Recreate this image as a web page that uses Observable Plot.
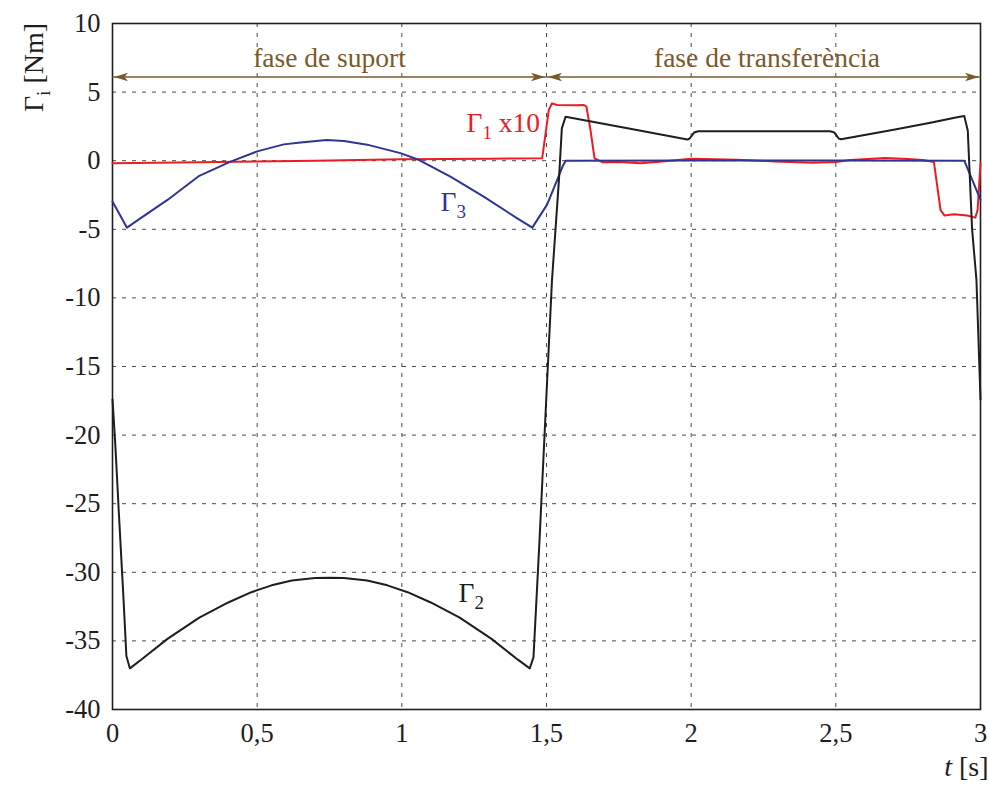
<!DOCTYPE html>
<html>
<head>
<meta charset="utf-8">
<script src="https://cdn.jsdelivr.net/npm/d3@7"></script>
<script src="https://cdn.jsdelivr.net/npm/@observablehq/plot@0.6"></script>
<style>
  body { margin: 0; background: #fff; }
</style>
</head>
<body>
<script>
// Joint torques over one gait cycle (support phase, then transfer phase).
// Γ2 — black
const tGamma2 = [0, 0.010, 0.022, 0.037, 0.048, 0.060, 0.10, 0.19, 0.30, 0.40, 0.48, 0.55, 0.62, 0.70, 0.75,
  0.80, 0.88, 0.95, 1.02, 1.10, 1.20, 1.31, 1.40, 1.442, 1.455, 1.476, 1.500, 1.519, 1.543, 1.553, 1.566,
  1.78, 1.987, 1.995, 2.010, 2.025, 2.480, 2.495, 2.510, 2.518, 2.70, 2.827, 2.856, 2.919, 2.944, 2.956,
  2.971, 2.986, 3.0];
const gamma2 = [-17.4, -20.8, -25.7, -31.5, -36.1, -37.0, -36.35, -34.85, -33.3, -32.2, -31.45, -30.95, -30.6, -30.42, -30.4,
  -30.42, -30.6, -30.95, -31.45, -32.2, -33.3, -34.85, -36.35, -37.0, -36.2, -27.6, -17.0, -8.7, -1.4, 2.36, 3.2,
  2.36, 1.54, 1.62, 2.05, 2.15, 2.15, 2.05, 1.62, 1.56, 2.25, 2.77, 2.9, 3.16, 3.25, 2.2,
  -5.0, -8.7, -17.4];

// Γ3 — blue
const tGamma3 = [0, 0.05, 0.10, 0.19, 0.30, 0.408, 0.50, 0.592, 0.65, 0.74, 0.80, 0.88, 0.995, 1.06,
  1.168, 1.283, 1.399, 1.451, 1.502, 1.537, 1.556, 1.566, 2.0, 2.5, 2.944, 3.0];
const gamma3 = [-2.98, -4.88, -4.15, -2.86, -1.1, -0.07, 0.68, 1.19, 1.33, 1.5, 1.43, 1.17, 0.55, 0.05,
  -1.16, -2.62, -4.2, -4.88, -3.2, -1.4, -0.4, 0.0, 0.02, 0.02, 0.0, -2.86];

// Γ1 ×10 — red
const tGamma1 = [0, 0.30, 0.70, 1.00, 1.30, 1.485, 1.508, 1.519, 1.537, 1.600, 1.629, 1.638, 1.652, 1.666, 1.695,
  1.75, 1.825, 1.90, 2.00, 2.08, 2.16, 2.29, 2.42, 2.50, 2.55, 2.67, 2.75, 2.80, 2.839, 2.862, 2.876, 2.908,
  2.954, 2.982, 2.990, 3.0];
const gamma1x10 = [-0.19, -0.12, 0.0, 0.1, 0.15, 0.17, 3.7, 4.18, 4.06, 4.05, 4.06, 3.94, 2.24, 0.17, -0.12,
  -0.1, -0.18, -0.05, 0.15, 0.1, 0.07, -0.05, -0.15, -0.1, 0.05, 0.2, 0.12, 0.05, -0.1, -3.6, -4.0, -3.9,
  -4.0, -4.15, -3.6, -0.2];

// Gait phases (seconds) and their names
const phaseStart = [0, 1.5];
const phaseEnd = [1.5, 3];
const phaseNames = ["fase de suport", "fase de transferència"];

// Axis ticks
const xTicks = [0, 0.5, 1, 1.5, 2, 2.5, 3];
const yTicks = [10, 5, 0, -5, -10, -15, -20, -25, -30, -35, -40];

const series = (ts, vs) => ts.map((t, i) => ({t, v: vs[i]}));
const black = series(tGamma2, gamma2);
const blue = series(tGamma3, gamma3);
const red = series(tGamma1, gamma1x10);
const phases = phaseStart.map((s, i) => ({s, e: phaseEnd[i], name: phaseNames[i], mid: i === 0 ? (s + phaseEnd[i]) / 2 : 2.262}));

const brown = "#7a5a2c";
const cRed = "#ec1c24";
const cBlue = "#2e3592";
const cBlack = "#1e1e1e";
const serif = "Liberation Serif";

// Filled, notched arrowheads with their tip at the origin
const headRight = {draw(ctx) { ctx.moveTo(0, 0); ctx.lineTo(-14, -4.2); ctx.lineTo(-10.5, 0); ctx.lineTo(-14, 4.2); ctx.closePath(); }};
const headLeft = {draw(ctx) { ctx.moveTo(0, 0); ctx.lineTo(14, -4.2); ctx.lineTo(10.5, 0); ctx.lineTo(14, 4.2); ctx.closePath(); }};

const arrowY = 6.1;

const chart = Plot.plot({
  width: 989,
  height: 791,
  marginLeft: 112,
  marginRight: 9,
  marginTop: 23,
  marginBottom: 82,
  style: {fontFamily: serif, fontSize: "26.5px", background: "#fff", color: "#1e1e1e"},
  x: {domain: [0, 3], ticks: xTicks, tickFormat: d => String(d).replace(".", ","), tickSize: 0, tickPadding: 14, label: null},
  y: {domain: [-40, 10], ticks: yTicks, tickFormat: d => String(d), tickSize: 0, tickPadding: 12, label: null},
  marks: [
    Plot.ruleX(xTicks, {stroke: "#4a4a4a", strokeDasharray: "4,6", strokeWidth: 1}),
    Plot.ruleY(yTicks, {stroke: "#4a4a4a", strokeDasharray: "4,6", strokeWidth: 1}),
    Plot.frame({stroke: cBlack, strokeWidth: 1.6}),
    // phase arrows
    Plot.link(phases, {x1: "s", x2: "e", y1: () => arrowY, y2: () => arrowY, stroke: brown, strokeWidth: 1.6}),
    Plot.dot(phases, {x: "s", y: () => arrowY, symbol: headLeft, fill: brown, stroke: null, dx: 1.5}),
    Plot.dot(phases, {x: "e", y: () => arrowY, symbol: headRight, fill: brown, stroke: null, dx: -1.5}),
    Plot.text(phases, {x: "mid", y: 7.45, text: "name", fill: brown, fontSize: 27.5}),
    // torque curves
    Plot.line(red, {x: "t", y: "v", stroke: cRed, strokeWidth: 2}),
    Plot.line(blue, {x: "t", y: "v", stroke: cBlue, strokeWidth: 2}),
    Plot.line(black, {x: "t", y: "v", stroke: cBlack, strokeWidth: 2}),
    // curve labels
    Plot.text(["Γ1 x10"], {x: 1.2235, y: 2.7, text: d => d, textAnchor: "start", fill: cRed, fontSize: 27.5}),
    Plot.text(["Γ3"], {x: 1.134, y: -3.0, text: d => d, textAnchor: "start", fill: cBlue, fontSize: 27.5}),
    Plot.text(["Γ2"], {x: 1.196, y: -31.5, text: d => d, textAnchor: "start", fill: cBlack, fontSize: 27.5}),
    // axis titles
    Plot.text(["Γi [Nm]"], {frameAnchor: "top-left", text: d => d, rotate: -90, textAnchor: "middle", dx: -89, dy: 44, fill: cBlack, fontSize: 28}),
    Plot.text(["t [s]"], {frameAnchor: "bottom-right", text: d => d, textAnchor: "end", dx: 8, dy: 66, fill: cBlack, fontSize: 28})
  ]
});

// Subscripts and italics in the labels
d3.select(chart).selectAll("text").each(function () {
  const s = this.textContent;
  const sel = d3.select(this);
  const m = s.match(/^Γ([0-9i])(.*)$/);
  if (m) {
    sel.text(null);
    sel.append("tspan").text("Γ");
    sel.append("tspan").attr("dy", 7).attr("font-size", 19).text(m[1]);
    if (m[2]) sel.append("tspan").attr("dy", -7).text(m[2]);
  } else if (s === "t [s]") {
    sel.text(null);
    sel.append("tspan").attr("font-style", "italic").text("t");
    sel.append("tspan").text(" [s]");
  }
});

document.body.appendChild(chart);
</script>
</body>
</html>
